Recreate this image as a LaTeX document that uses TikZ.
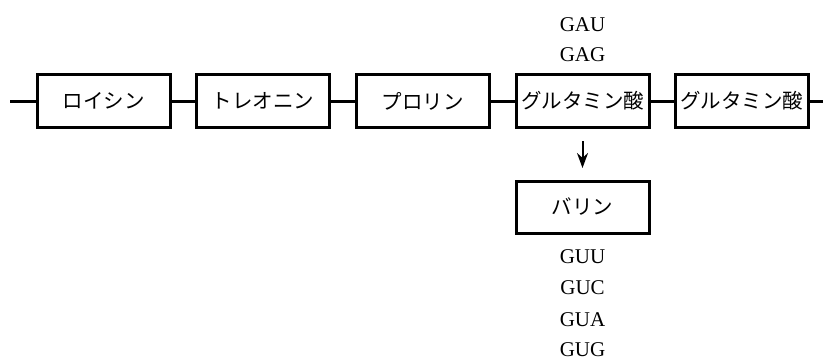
\documentclass[tikz,border=0pt]{standalone}
\usepackage{fontspec}
\setmainfont{Liberation Serif}
\newfontfamily\jp{Noto Sans CJK JP}
\usetikzlibrary{arrows.meta}
\begin{document}
\begin{tikzpicture}[x=1pt,y=-1pt,
  acid/.style={draw,line width=3pt,minimum width=133pt,minimum height=53pt,inner sep=0pt,font=\jp\fontsize{20.5}{22}\selectfont},
  codon/.style={inner sep=0pt,font=\fontsize{21}{23}\selectfont},
  link/.style={line width=3pt}]
\useasboundingbox (0,0) rectangle (827,360);
\node[acid] (a1) at (103.5,101) {ロイシン};
\node[acid] (a2) at (263,101) {トレオニン};
\node[acid] (a3) at (422.5,101) {プロリン};
\node[acid] (a4) at (582.5,101) {グルタミン酸};
\node[acid] (a5) at (741.5,101) {グルタミン酸};
\coordinate (l0) at (10,101);
\coordinate (r0) at (823,101);
\draw[link] (l0) -- (a1.west);
\draw[link] (a1) -- (a2);
\draw[link] (a2) -- (a3);
\draw[link] (a3) -- (a4);
\draw[link] (a4) -- (a5);
\draw[link] (a5.east) -- (r0);
\node[codon] (gau) at (582.5,25) {GAU};
\node[codon] (gag) at (582.5,55) {GAG};
\node[acid,minimum height=52pt] (v) at (582.5,207) {バリン};
\coordinate (ar0) at (582.5,141);
\coordinate (ar1) at (582.5,168);
\draw[line width=2pt,-{Stealth[length=15pt,width=11pt]}] (ar0) -- (ar1);
\node[codon] (guu) at (582.5,257) {GUU};
\node[codon] (guc) at (582.5,288) {GUC};
\node[codon] (gua) at (582.5,320) {GUA};
\node[codon] (gug) at (582.5,350) {GUG};
\end{tikzpicture}
\end{document}
